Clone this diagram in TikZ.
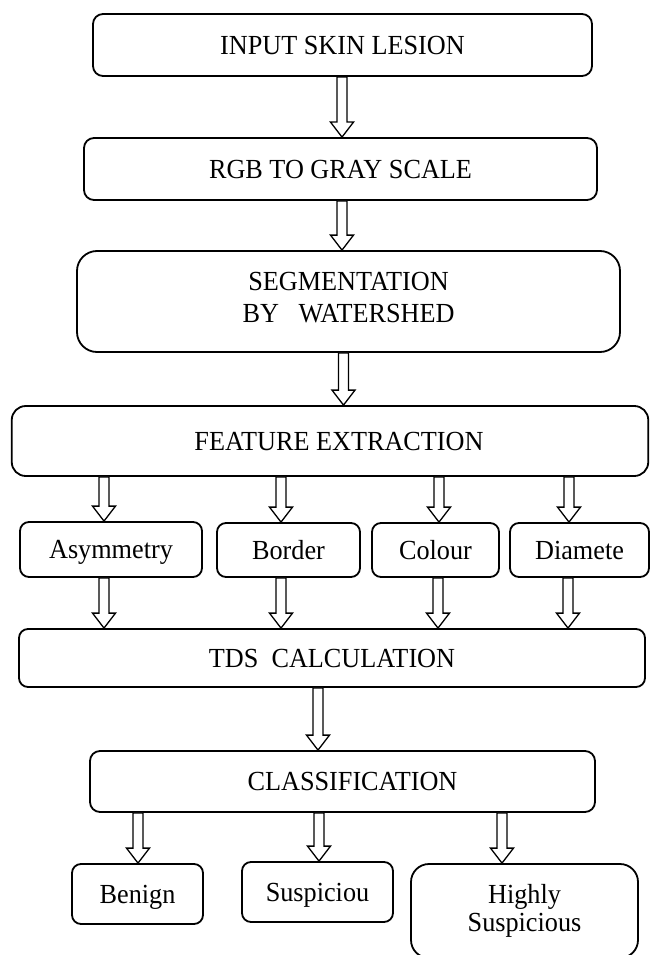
\documentclass[tikz,border=0pt]{standalone}
\usepackage{fontspec}
\setmainfont{Liberation Serif}[FakeStretch=0.95]
\usetikzlibrary{calc}
\tikzset{
  box/.style={draw, line width=1.8pt, rounded corners=#1, inner sep=0pt, fill=white,
    align=center, font=\fontsize{27.6}{32}\selectfont, text height=18.2pt, text depth=0pt},
  box/.default=10pt,
  arr/.style={draw, line width=1.3pt, fill=white, line join=miter},
}
\newcommand\blockarrow[3]{%
  \draw[arr] let \p1=(#2.south), \p2=(#3.north), \p3=(#1,0) in
    (\x3-5pt,\y1) -- (\x3+5pt,\y1) -- (\x3+5pt,\y2+15pt) -- (\x3+11.5pt,\y2+15pt)
    -- (\x3,\y2) -- (\x3-11.5pt,\y2+15pt) -- (\x3-5pt,\y2+15pt) -- cycle;}
\begin{document}
\begin{tikzpicture}[x=1pt,y=-1pt]
\path[use as bounding box, fill=white] (0,0) rectangle (651,955);
\clip (0,0) rectangle (651,955);

\node[box=10pt, minimum width=499pt, minimum height=62pt] (in) at (342.5,45) {INPUT SKIN LESION};
\node[box=10pt, minimum width=513pt, minimum height=62pt] (rgb) at (340.5,169) {RGB TO GRAY SCALE};
\node[box=20pt, minimum width=543pt, minimum height=101pt, text height=, text depth=8pt] (seg) at (348.5,301.5) {SEGMENTATION\\BY\ \ \ WATERSHED};
\node[box=14pt, minimum width=636.5pt, minimum height=70pt] (feat) at (330,441) {\hspace*{18pt}FEATURE EXTRACTION};
\node[box=9pt, minimum width=182pt, minimum height=55pt] (asym) at (111,549.5) {Asymmetry};
\node[box=9pt, minimum width=143pt, minimum height=54pt] (bord) at (288.5,550) {Border};
\node[box=9pt, minimum width=127pt, minimum height=54pt] (col) at (435.5,550) {Colour};
\node[box=9pt, minimum width=139pt, minimum height=54pt] (dia) at (579.5,550) {Diamete};
\node[box=9pt, minimum width=626pt, minimum height=58pt] (tds) at (332,658) {TDS\ \ CALCULATION};
\node[box=10pt, minimum width=505pt, minimum height=61pt] (cls) at (342.5,781.5) {\hspace*{20pt}CLASSIFICATION};
\node[box=9pt, minimum width=131pt, minimum height=60pt] (ben) at (137.5,894) {Benign};
\node[box=9pt, minimum width=151pt, minimum height=60pt] (sus) at (317.5,892) {Suspiciou};
\node[box=18pt, minimum width=227pt, minimum height=94pt, text height=, text depth=,
  font=\fontsize{27.6}{28}\selectfont] (high) at (524.5,911) {Highly\\Suspicious};

\blockarrow{342}{in}{rgb}
\blockarrow{342}{rgb}{seg}
\blockarrow{343.5}{seg}{feat}
\blockarrow{104}{feat}{asym}
\blockarrow{281}{feat}{bord}
\blockarrow{439}{feat}{col}
\blockarrow{569}{feat}{dia}
\blockarrow{104}{asym}{tds}
\blockarrow{281}{bord}{tds}
\blockarrow{438}{col}{tds}
\blockarrow{568}{dia}{tds}
\blockarrow{318}{tds}{cls}
\blockarrow{138}{cls}{ben}
\blockarrow{319}{cls}{sus}
\blockarrow{502}{cls}{high}
\end{tikzpicture}
\end{document}
